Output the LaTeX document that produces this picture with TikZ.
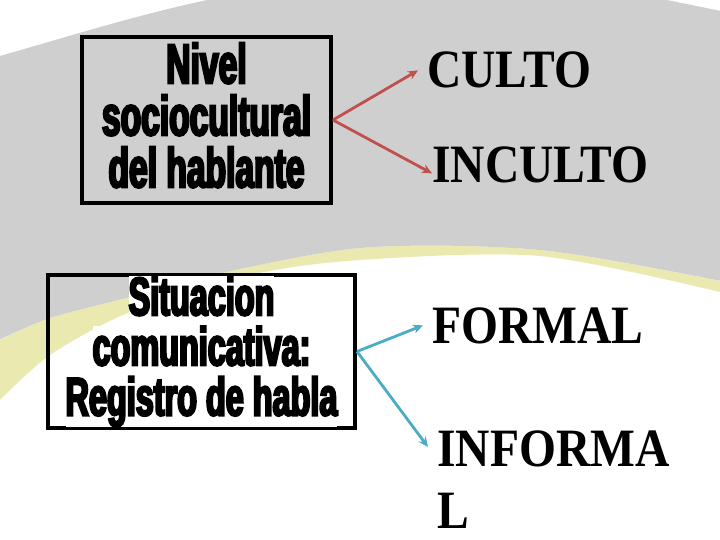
\documentclass[tikz,border=0pt]{standalone}
\usepackage{fontspec}
\usepackage{tikz}
\usetikzlibrary{arrows.meta}

\newfontfamily\posterfont[FakeStretch=0.60,FakeBold=4]{Liberation Sans Bold}
\newfontfamily\labelfont[FakeStretch=0.88]{Liberation Serif}
\definecolor{bggray}{RGB}{207,207,207}
\definecolor{bgyellow}{RGB}{234,234,176}
\definecolor{redline}{RGB}{192,80,77}
\definecolor{blueline}{RGB}{75,172,198}
\setlength{\fboxsep}{0pt}
\newcommand{\hilite}[1]{\colorbox{white}{\rule[-10pt]{0pt}{49pt}#1}}

\begin{document}
\begin{tikzpicture}
		[
			x=1pt, y=-1pt,
			box/.style = {draw=black, line width=4pt, fill=none, align=center, inner sep=0pt},
			word/.style = {anchor=base west, inner sep=0pt, font=\labelfont\bfseries\fontsize{54}{62}\selectfont},
			rarrow/.style = {draw=redline, line width=2.8pt, -{Stealth[length=10pt,width=9pt]}},
			barrow/.style = {draw=blueline, line width=2.8pt, -{Stealth[length=10pt,width=9pt]}},
		]

		% background swoosh
		\useasboundingbox (0,0) rectangle (720,540);
		\fill[white] (0,0) rectangle (720,540);
		\fill[bgyellow] plot[smooth] coordinates {(720,281) (540,250) (360,248) (190,280) (130,297) (50,318) (0,340)}
			-- plot[smooth] coordinates {(0,400) (50,355) (130,312) (250,275) (360,260) (540,256) (720,292)} -- cycle;
		\fill[bggray] (0,56) .. controls (70,36) and (140,14) .. (212,-1) -- (662,-1) -- (721,11) -- (721,281)
			-- plot[smooth] coordinates {(721,281) (540,250) (360,248) (190,280) (130,297) (50,318) (-1,340)} -- cycle;

		% boxes
		\node[box, minimum width=249, minimum height=166, font=\posterfont\fontsize{56}{52}\selectfont] (nivel) 	at ( 206.5, 120.0 ) {Nivel\\sociocultural\\del hablante\rule[-10pt]{0pt}{0pt}};
		\node[box, minimum width=307, minimum height=153, font=\posterfont\fontsize{54}{49}\selectfont] (situacion) 	at ( 201.5, 351.5 ) {\hilite{Situacion}\\\hilite{comunicativa:}\\\hilite{Registro de habla}};

		% words
		\node[word] (culto) 	at ( 427, 88 ) {CULTO};
		\node[word] (inculto) 	at ( 432, 183 ) {INCULTO};
		\node[word] (formal) 	at ( 432, 343 ) {FORMAL};
		\node[word, anchor=north west, align=left] (informal) 	at ( 437, 431 ) {INFORMA\\L};

		\draw[rarrow] (nivel.east) -- ([xshift=-9pt]culto.west);
		\draw[rarrow] (nivel.east) -- ([yshift=-8pt]inculto.west);
		\draw[barrow] (situacion.east) -- ([xshift=-9pt]formal.west);
		\draw[barrow] (situacion.east) -- ([xshift=-9pt,yshift=-16pt]informal.north west);

		\end{tikzpicture}
\end{document}
